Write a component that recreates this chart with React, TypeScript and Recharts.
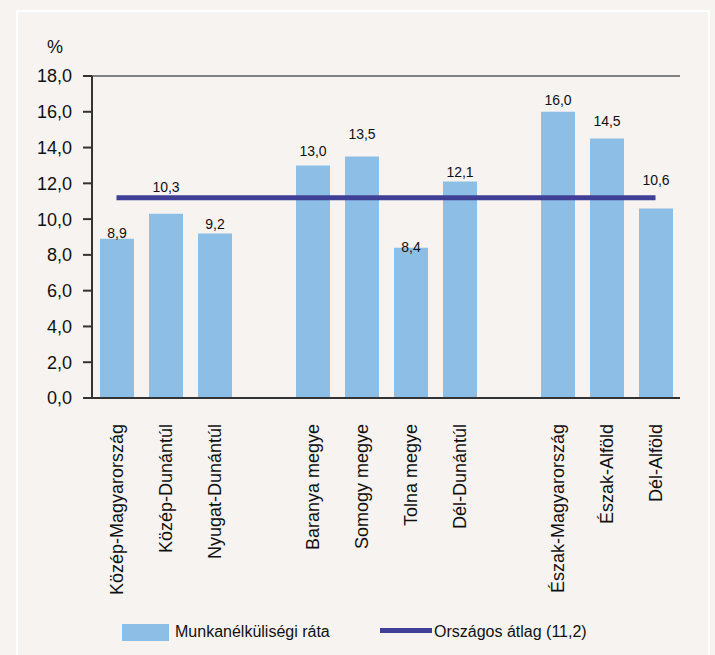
import React from 'react';
import { ComposedChart, Bar, Line, XAxis, YAxis, CartesianGrid, LabelList } from 'recharts';

const categories = ['Közép-Magyarország', 'Közép-Dunántúl', 'Nyugat-Dunántúl', '', 'Baranya megye', 'Somogy megye', 'Tolna megye', 'Dél-Dunántúl', ' ', 'Észak-Magyarország', 'Észak-Alföld', 'Dél-Alföld'];
const rates: (number | null)[] = [8.9, 10.3, 9.2, null, 13.0, 13.5, 8.4, 12.1, null, 16.0, 14.5, 10.6];
const nationalAverage = 11.2;
const yTicks = [0, 2, 4, 6, 8, 10, 12, 14, 16, 18];
const seriesNames = ['Munkanélküliségi ráta', 'Országos átlag (11,2)'];

// label vertical offsets (styling only), aligned with categories
const LABEL_DY = [-6, -27, -9, 0, -14, -23, -1, -10, 0, -12, -18, -28];

const BAR = '#8dbee6';
const LINE = '#3f3f96';
const BG = '#f6f3f0';
const FONT = '"Liberation Sans", Arial, sans-serif';

const data = categories.map((name, i) => ({ name, rate: rates[i], avg: nationalAverage }));

const fmt = (v: number) => v.toFixed(1).replace('.', ',');

const XTick = (props: any) => {
  const { x, y, payload } = props;
  const tx = x;
  const ty = y + 18;
  return (
    <text x={tx} y={ty} transform={`rotate(-90, ${tx}, ${ty})`} textAnchor="end" dy="0.36em" fontSize={18} fontFamily={FONT} fill="#111">
      {payload.value}
    </text>
  );
};

const ValueLabel = (props: any) => {
  const { x, y, width, value } = props;
  if (value === null || value === undefined) return null;
  const idx = rates.indexOf(value);
  const dy = idx >= 0 ? LABEL_DY[idx] : -10;
  return (
    <text x={x + width / 2} y={y + dy} textAnchor="middle" dominantBaseline="central" fontSize={14} fontFamily={FONT} fill="#111">
      {fmt(value)}
    </text>
  );
};

export default function App() {
  return (
    <div style={{ position: 'absolute', left: 0, top: 0, width: 715, height: 655, background: BG, overflow: 'hidden', fontFamily: FONT }}>
      <div style={{ position: 'absolute', left: 16, top: 10, width: 690, height: 700, border: '2px solid #ffffff' }} />
      <div style={{ position: 'absolute', left: 47, top: 36, fontSize: 18, color: '#111', lineHeight: '22px' }}>%</div>
      <div style={{ position: 'absolute', left: 0, top: 0 }}>
        <ComposedChart width={715} height={655} data={data} margin={{ top: 76, right: 35, bottom: 0, left: 0 }}>
          <CartesianGrid horizontal vertical={false} stroke="#828282" strokeWidth={2} />
          <XAxis dataKey="name" height={257} interval={0} tickLine={false} tick={<XTick />} axisLine={{ stroke: '#333', strokeWidth: 2 }} />
          <YAxis yAxisId="l" domain={[0, 18]} ticks={yTicks} width={92} tickFormatter={fmt} tickSize={9} tickMargin={11}
            axisLine={{ stroke: '#333', strokeWidth: 2 }} tickLine={{ stroke: '#333', strokeWidth: 2 }}
            tick={{ fontSize: 18, fontFamily: FONT, fill: '#111' }} />
          <YAxis yAxisId="r" orientation="right" domain={[0, 18]} ticks={yTicks} width={0} tick={false} tickLine={false}
            axisLine={{ stroke: '#828282', strokeWidth: 2 }} />
          <Bar yAxisId="l" dataKey="rate" name={seriesNames[0]} fill={BAR} barSize={34} isAnimationActive={false}>
            <LabelList dataKey="rate" content={<ValueLabel />} />
          </Bar>
          <Line yAxisId="l" dataKey="avg" name={seriesNames[1]} stroke={LINE} strokeWidth={5} dot={false} activeDot={false} type="linear" isAnimationActive={false} />
        </ComposedChart>
      </div>
      <div style={{ position: 'absolute', left: 122, top: 624, width: 47, height: 17, background: BAR }} />
      <div style={{ position: 'absolute', left: 175, top: 622, fontSize: 16, lineHeight: '20px', color: '#111' }}>{seriesNames[0]}</div>
      <div style={{ position: 'absolute', left: 380, top: 628, width: 52, height: 5, background: LINE }} />
      <div style={{ position: 'absolute', left: 434, top: 622, fontSize: 16, lineHeight: '20px', color: '#111' }}>{seriesNames[1]}</div>
    </div>
  );
}
